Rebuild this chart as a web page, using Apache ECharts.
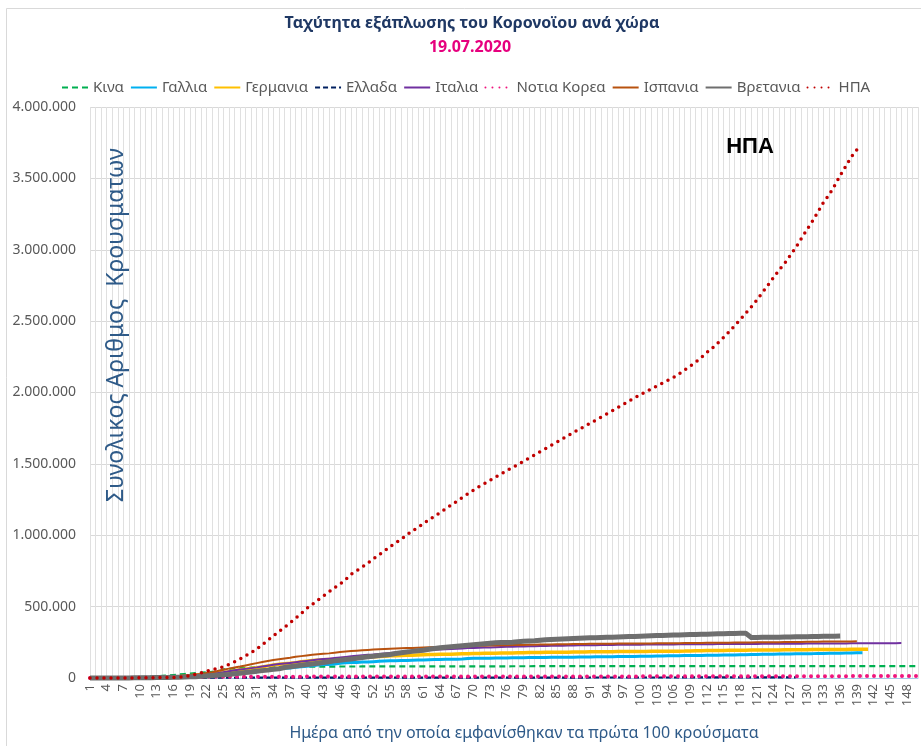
<!DOCTYPE html>
<html>
<head>
<meta charset="utf-8">
<script src="https://cdn.jsdelivr.net/npm/echarts@6/dist/echarts.min.js"></script>
<style>
html,body{margin:0;padding:0;background:#fff;}
#chart{width:921px;height:746px;}
</style>
</head>
<body>
<div id="chart"></div>
<script>
// Day numbers (days since first 100 cases)
const days = Array.from({length:150},(_, i)=>String(i+1));

// Cumulative cases, in thousands
const china = [0.2,0.29,0.44,0.57,0.83,1.29,1.98,2.74,4.52,5.97,
7.71,9.69,11.79,14.38,17.21,20.44,24.32,28.02,31.16,34.55,
37.2,40.17,42.64,44.65,59.8,63.85,66.49,68.5,70.55,72.44,
74.19,74.58,75.47,76.29,76.94,77.15,77.66,78.06,78.5,78.82,
79.25,79.82,80.03,80.15,80.27,80.41,80.55,80.65,80.7,80.74,
80.78,80.82,80.86,80.88,80.89,80.92,80.96,80.98,81.02,81.06,
81.1,81.15,81.2,81.25,81.34,81.39,81.47,81.55,81.6,81.64,
81.71,81.8,81.87,81.91,81.95,82.05,82.16,82.29,82.34,82.4,
82.7,82.72,82.74,82.76,82.8,82.82,82.83,82.83,82.84,82.85,
82.86,82.86,82.87,82.87,82.88,82.88,82.88,82.89,82.89,82.9,
82.9,82.92,82.93,82.93,82.95,82.96,82.97,82.97,82.99,82.99,
83.0,83.01,83.01,83.02,83.02,83.03,83.03,83.04,83.04,83.05,
83.06,83.06,83.07,83.07,83.08,83.1,83.13,83.18,83.22,83.27,
83.32,83.35,83.4,83.42,83.45,83.48,83.5,83.51,83.53,83.54,
83.55,83.56,83.57,83.58,83.58,83.59,83.6,83.6,83.61,83.62];

const france = [0.1,0.13,0.19,0.21,0.29,0.42,0.61,0.95,1.13,1.41,
1.78,2.28,2.88,3.66,4.5,5.42,6.63,7.73,9.13,11.0,
12.61,14.46,16.02,19.86,22.3,25.23,29.16,32.96,37.58,40.17,
44.55,52.13,56.99,59.11,64.34,68.61,70.48,74.39,78.17,82.05,
86.33,90.68,93.79,95.4,98.08,103.57,106.21,108.85,109.25,111.82,
112.61,114.66,117.32,119.15,120.8,121.71,122.58,123.28,124.3,125.77,
126.84,128.34,129.58,130.19,130.98,131.29,131.86,132.97,137.15,137.78,
138.42,138.85,139.06,139.52,140.23,140.73,141.36,141.92,142.41,142.9,
143.43,143.85,144.16,144.81,145.28,145.56,145.75,146.12,146.59,147.09,
147.44,148.08,148.52,149.07,149.67,150.09,150.32,150.71,151.15,151.79,
152.44,152.98,153.98,154.59,155.14,155.56,156.29,156.81,157.22,157.72,
158.17,158.64,159.45,160.09,160.38,161.35,161.7,162.94,162.94,164.26,
164.8,165.72,166.38,166.96,167.3,168.34,168.81,169.47,170.09,170.75,
170.75,171.9,172.38,173.3,173.84,173.84,174.67,175.22,176.75,177.34];

const germany = [0.13,0.16,0.2,0.26,0.48,0.67,0.8,1.04,1.18,1.46,
1.91,2.08,3.68,4.59,5.8,7.27,9.26,12.33,15.32,19.85,
22.21,24.87,29.06,32.99,37.32,43.94,50.87,57.7,62.1,66.89,
71.81,77.87,84.79,91.16,96.09,100.12,103.37,107.66,113.3,118.18,
122.17,124.91,127.85,130.07,131.36,134.75,137.7,141.4,143.34,145.18,
147.07,148.29,150.65,153.13,155.0,156.51,157.77,158.76,159.91,161.54,
163.01,164.08,164.97,165.66,166.15,167.01,168.16,169.43,170.59,171.32,
171.88,172.58,173.17,174.1,174.48,175.23,175.75,176.37,176.55,177.78,
178.47,179.02,179.71,179.99,180.33,180.6,181.2,181.52,182.2,182.92,
183.19,183.41,183.59,184.12,184.47,184.92,185.45,185.75,186.02,186.27,
186.51,186.52,186.69,187.23,187.27,187.52,188.25,188.6,189.82,190.3,
191.45,192.08,192.56,193.24,193.5,194.04,194.46,194.69,195.04,195.39,
195.89,196.1,196.34,196.55,196.94,197.2,197.52,198.06,198.34,198.7,
198.8,199.0,199.38,199.71,199.92,200.18,200.46,200.89,201.45,201.57,
202.05];

const greece = [0.1,0.12,0.19,0.23,0.33,0.39,0.46,0.5,0.53,0.62,
0.7,0.74,0.82,0.89,0.97,1.06,1.16,1.21,1.31,1.41,
1.54,1.61,1.67,1.74,1.76,1.82,1.83,1.88,1.96,2.01,
2.08,2.11,2.14,2.17,2.19,2.21,2.22,2.24,2.25,2.35,
2.46,2.49,2.5,2.52,2.53,2.57,2.59,2.61,2.62,2.63,
2.64,2.66,2.68,2.69,2.71,2.72,2.73,2.74,2.76,2.77,
2.78,2.8,2.81,2.82,2.83,2.84,2.85,2.87,2.88,2.89,
2.9,2.91,2.92,2.94,2.95,2.97,2.98,3.0,3.02,3.04,
3.06,3.09,3.11,3.12,3.15,3.17,3.2,3.24,3.26,3.3,
3.34,3.37,3.38,3.39,3.41,3.43,3.45,3.46,3.49,3.51,
3.52,3.54,3.56,3.59,3.62,3.66,3.69,3.73,3.77,3.8,
3.82,3.83,3.84,3.85,3.86,3.87,3.88,3.89,3.9,3.91,
3.92,3.93,3.94,3.95,3.96,3.97,3.98,3.99];

const italy = [0.23,0.32,0.45,0.66,0.89,1.13,1.69,2.04,2.5,3.09,
3.86,4.64,5.88,7.38,9.17,10.15,12.46,15.11,17.66,21.16,
24.75,27.98,31.51,35.71,41.04,47.02,53.58,59.14,63.93,69.18,
74.39,80.59,86.5,92.47,97.69,101.74,105.79,110.57,115.24,119.83,
124.63,128.95,132.55,135.59,139.42,143.63,147.58,152.27,156.36,159.52,
162.49,165.16,168.94,172.43,175.93,178.97,181.23,183.96,187.33,189.97,
192.99,195.35,197.68,199.41,201.51,203.59,205.46,207.43,209.33,210.72,
211.94,213.01,214.46,215.86,217.19,218.27,219.07,219.81,221.22,222.1,
223.1,223.89,224.76,225.44,225.89,226.7,227.36,228.01,228.66,229.33,
229.86,230.16,230.56,231.14,231.73,232.25,232.66,233.0,233.2,233.52,
233.84,234.01,234.53,234.8,235.0,235.28,235.56,235.76,236.14,236.31,
236.65,236.99,237.29,237.5,237.83,238.01,238.16,238.28,238.5,238.72,
238.83,239.41,239.71,239.96,240.14,240.31,240.44,240.58,240.76,240.96,
241.18,241.42,241.61,241.82,241.96,242.15,242.36,242.64,242.83,243.06,
243.23,243.34,243.51,243.74,243.97,244.22,244.43];

const korea = [0.1,0.2,0.43,0.6,0.83,0.98,1.26,1.77,2.34,3.15,
3.74,4.34,5.19,5.62,6.09,6.59,7.04,7.31,7.48,7.51,
7.76,7.87,7.98,8.09,8.16,8.24,8.32,8.41,8.57,8.65,
8.8,8.9,8.96,9.04,9.14,9.24,9.33,9.48,9.58,9.66,
9.79,9.89,9.98,10.06,10.16,10.24,10.28,10.33,10.38,10.42,
10.45,10.48,10.51,10.54,10.56,10.59,10.61,10.64,10.65,10.66,
10.67,10.68,10.69,10.7,10.71,10.72,10.73,10.74,10.75,10.76,
10.77,10.77,10.78,10.79,10.8,10.8,10.81,10.81,10.82,10.84,
10.87,10.91,10.94,10.96,10.99,11.02,11.04,11.05,11.07,11.08,
11.11,11.12,11.14,11.17,11.19,11.21,11.23,11.27,11.34,11.4,
11.44,11.47,11.5,11.54,11.59,11.63,11.67,11.72,11.78,11.81,
11.85,11.9,11.95,12.0,12.05,12.09,12.12,12.16,12.2,12.26,
12.31,12.37,12.42,12.44,12.48,12.54,12.56,12.6,12.65,12.72,
12.76,12.8,12.85,12.9,12.97,13.03,13.09,13.14,13.18,13.24,
13.29,13.34,13.37,13.42,13.48,13.51,13.55,13.61,13.67,13.71];

const spain = [0.12,0.17,0.22,0.26,0.4,0.5,0.67,1.07,1.7,2.28,
2.95,5.23,6.39,7.8,9.94,11.75,13.91,17.96,20.41,25.37,
28.77,35.14,39.89,49.52,57.79,65.72,73.24,80.11,87.96,95.92,
104.1,112.1,119.2,126.2,131.6,136.7,141.9,148.2,153.2,158.3,
163.0,166.8,170.1,172.5,177.6,182.0,185.5,188.5,191.7,194.4,
196.7,199.0,201.2,202.9,204.5,206.0,207.6,209.4,210.7,212.0,
213.4,215.2,216.6,217.5,218.0,219.3,220.3,221.4,222.8,223.6,
225.4,226.5,227.6,228.4,229.2,230.0,230.7,231.4,232.0,232.6,
233.3,234.0,234.6,235.1,235.8,236.4,237.0,237.7,238.2,238.7,
239.1,239.5,239.9,240.2,240.6,240.9,241.2,241.5,241.8,242.0,
242.2,242.5,242.8,243.1,243.4,243.7,244.0,244.5,245.0,245.4,
245.8,246.2,246.5,246.8,247.1,247.5,247.9,248.5,248.8,249.3,
249.7,250.1,250.5,250.8,251.2,251.8,252.1,252.5,253.0,253.6,
254.1,254.6,254.9,255.2,255.5,255.8,256.1,256.4,256.7];

const uk = [0.16,0.21,0.27,0.32,0.37,0.46,0.59,0.8,1.06,1.39,
1.54,1.95,2.63,3.27,3.98,5.02,5.68,6.65,8.08,9.53,
11.7,14.5,17.1,19.5,22.1,25.2,29.5,33.7,38.2,41.9,
47.8,51.6,55.2,60.7,65.1,73.8,79.0,84.3,88.6,93.9,
98.5,103.1,108.7,114.2,120.1,124.7,129.0,133.5,138.1,143.5,
148.4,152.8,157.1,161.1,165.2,171.3,177.5,182.3,186.6,190.6,
195.0,201.1,206.7,211.4,215.3,219.2,223.1,226.5,229.7,233.2,
236.7,240.2,243.3,246.4,248.8,249.5,250.9,254.2,257.2,259.6,
261.2,265.2,267.2,269.1,271.2,272.8,274.8,276.3,278.0,279.4,
281.3,281.7,283.3,284.9,286.2,287.4,289.1,290.1,291.4,293.0,
294.4,295.9,296.9,298.1,299.3,300.5,301.8,303.1,304.3,305.3,
306.2,306.9,308.0,309.4,310.3,311.2,312.0,312.7,313.5,283.8,
284.3,284.9,285.4,285.8,286.3,287.0,287.6,288.1,289.0,289.6,
290.1,291.4,291.9,292.6,293.2,294.1];

const usa = [0.1,0.12,0.16,0.22,0.3,0.4,0.5,0.7,1.0,1.3,
1.7,2.2,2.7,3.3,3.8,4.0,5.5,9,16,26,
36,47,58,67,78,95,113,133,155,178,
203,232,264,295,326,355,387,418,451,487,
516,546,574,603,632,658,690,727,752,778,
805,835,863,890,920,947,971,1002,1030,1055,
1080,1110,1132,1160,1185,1212,1238,1264,1290,1315,
1340,1362,1385,1408,1430,1452,1474,1496,1518,1540,
1562,1585,1607,1630,1652,1675,1697,1720,1742,1763,
1785,1806,1828,1850,1872,1895,1917,1940,1962,1984,
2005,2025,2045,2065,2085,2105,2130,2158,2185,2213,
2245,2280,2312,2348,2385,2425,2468,2510,2555,2600,
2648,2700,2752,2805,2858,2905,2960,3015,3078,3140,
3200,3265,3333,3385,3450,3520,3585,3650,3700];

const chart = echarts.init(document.getElementById('chart'), null, {renderer:'canvas'});
const toAbs = arr => arr.map(v => Math.round(v*1000));

function mk(name, arr, color, width, type, cap){
  return {
    name, type:'line', data: toAbs(arr), symbol:'none', showSymbol:false, clip:false,
    lineStyle:{color, width, type, cap: cap || 'butt', join:'round'},
    itemStyle:{color},
    emphasis:{disabled:true}, animation:false
  };
}

const option = {
  animation:false,
  backgroundColor:'#ffffff',
  textStyle:{fontFamily:'"Noto Sans", "DejaVu Sans", sans-serif'},
  graphic:[
    {type:'rect', shape:{x:6.5,y:8.5,width:940,height:760}, style:{fill:'none', stroke:'#d9d9d9', lineWidth:1}, silent:true, z:-10},
    {type:'text', z:100, x:472, y:23, style:{text:'Ταχύτητα εξάπλωσης του Κορονοϊου ανά χώρα', textAlign:'center', textVerticalAlign:'middle', fill:'#1F3864', font:'bold 16px "Noto Sans"'}},
    {type:'text', z:100, x:470, y:47, style:{text:'19.07.2020', textAlign:'center', textVerticalAlign:'middle', fill:'#E6007E', font:'bold 16px "Noto Sans"'}},
    {type:'text', z:100, x:750, y:147, style:{text:'ΗΠΑ', textAlign:'center', textVerticalAlign:'middle', fill:'#000000', font:'bold 22px "Liberation Sans"'}},
    {type:'text', z:100, x:116, y:325, rotation:Math.PI/2, style:{text:'Συνολικος Αριθμος  Κρουσματων', textAlign:'center', textVerticalAlign:'middle', fill:'#2E5A88', font:'23px "Noto Sans"'}},
    {type:'text', z:100, x:524, y:733, style:{text:'Ημέρα από την οποία εμφανίσθηκαν τα πρώτα 100 κρούσματα', textAlign:'center', textVerticalAlign:'middle', fill:'#2E5A88', font:'16px "Noto Sans"'}}
  ],
  legend:{
    left:56, top:75, itemGap:6, itemWidth:26, itemHeight:14,
    textStyle:{color:'#595959', fontSize:15, fontFamily:'"Noto Sans"'},
    itemStyle:{opacity:0},
    data:['Κινα','Γαλλια','Γερμανια','Ελλαδα','Ιταλια','Νοτια Κορεα','Ισπανια','Βρετανια','ΗΠΑ']
  },
  grid:{left:90, right:3, top:107, bottom:68, containLabel:false},
  xAxis:{
    type:'category', data:days, boundaryGap:false,
    axisLine:{show:true, lineStyle:{color:'#a6c8e8', width:1}},
    axisTick:{show:false},
    axisLabel:{interval:2, rotate:90, color:'#595959', fontSize:13, margin:6, fontFamily:'"Noto Sans"'},
    splitLine:{show:true, interval:0, lineStyle:{color:'#e0e0e0', width:1}}
  },
  yAxis:{
    type:'value', min:0, max:4000000, interval:500000,
    axisLine:{show:false}, axisTick:{show:false},
    axisLabel:{color:'#595959', fontSize:14, margin:14, fontFamily:'"Noto Sans"',
      formatter:v => v===0 ? '0' : String(v).replace(/\B(?=(\d{3})+(?!\d))/g,'.')},
    splitLine:{show:true, lineStyle:{color:'#d9d9d9', width:1}}
  },
  series:[
    mk('Κινα', china, '#00B050', 2.2, [6,4]),
    mk('Γαλλια', france, '#00B0F0', 3),
    mk('Γερμανια', germany, '#FFC000', 3.5),
    mk('Ελλαδα', greece, '#002060', 2.2, [5,3]),
    mk('Ιταλια', italy, '#7030A0', 2),
    mk('Νοτια Κορεα', korea, '#F0147D', 4, [0,7], 'round'),
    mk('Ισπανια', spain, '#B8520F', 2),
    mk('Βρετανια', uk, '#6E6E6E', 5),
    mk('ΗΠΑ', usa, '#C00000', 3.5, [0,7], 'round')
  ]
};
chart.setOption(option);
</script>
</body>
</html>
